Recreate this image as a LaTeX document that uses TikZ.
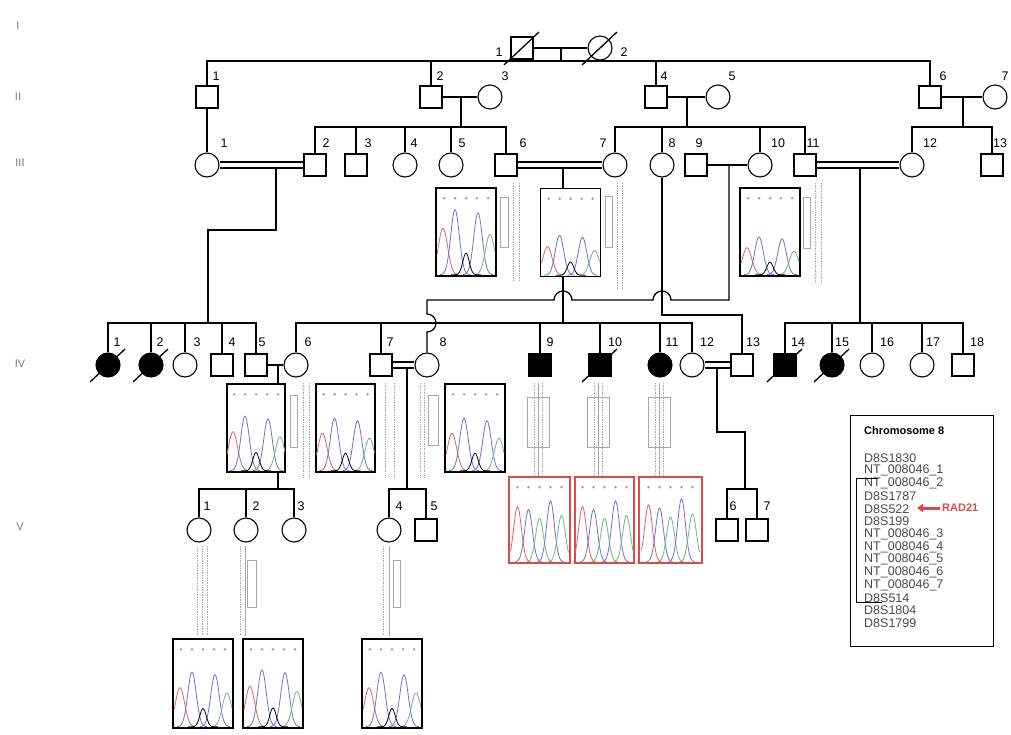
\documentclass[tikz,border=0pt]{standalone}
\usepackage{fontspec}
\setmainfont{Liberation Sans}
\usetikzlibrary{arrows.meta}
\definecolor{pkred}{HTML}{D9606E}
\definecolor{pkblue}{HTML}{6F73C2}
\definecolor{pkgreen}{HTML}{6DB58A}
\definecolor{boxred}{HTML}{D94A4A}
\definecolor{hapgray}{HTML}{A8A8A8}
\definecolor{gentxt}{HTML}{7A7A7A}
\definecolor{mktxt}{HTML}{4A4A4A}
\newcommand\consang[2]{\draw[ln] ([yshift=3pt]#1.east) -- ([yshift=3pt]#2.west); \draw[ln] ([yshift=-3pt]#1.east) -- ([yshift=-3pt]#2.west);}
\newcommand\deceased[1]{\draw[ln] ([shift={(-18,17)}]#1.center) -- ([shift={(17,-16)}]#1.center);}
\tikzset{
 pics/peaksA/.style={code={
  \foreach \c/\h/\s/\col in {-23/30/6.5/pkred,-11/42/6/pkblue,12/40/6/pkblue,24/26/6.5/pkgreen,0/14/4.5/black}{
    \pgfmathsetmacro{\da}{max(-29,\c-15)}
    \pgfmathsetmacro{\db}{min(29,\c+15)}
    \draw[\col, line width=0.8pt] plot[domain=\da:\db, samples=35, smooth] (\x,{0-(\h)*exp(0-(((\x)-(\c))/(\s))^2)});
  }
 }},
 pics/peaksB/.style={code={
  \foreach \c/\h/\s/\col in {-22/38/5.5/pkred,-11/36/5.5/pkblue,0/30/5.5/pkgreen,11/42/5.5/pkblue,22/32/5.5/pkgreen}{
    \pgfmathsetmacro{\da}{max(-29,\c-13)}
    \pgfmathsetmacro{\db}{min(29,\c+13)}
    \draw[\col, line width=0.8pt] plot[domain=\da:\db, samples=35, smooth] (\x,{0-(\h)*exp(0-(((\x)-(\c))/(\s))^2)});
  }
 }},
 pics/topmarks/.style={code={
  \foreach \d in {-22,-11,0,11,22}{\fill[hapgray] (\d,0) circle (1.5pt);}
 }},
}
\begin{document}
\begin{tikzpicture}[x=1pt,y=-1pt,
  ln/.style={line width=1.3pt},
  sq/.style={draw, rectangle, minimum size=22pt, inner sep=0pt, line width=1.1pt, fill=white},
  ci/.style={draw, circle, minimum size=24pt, inner sep=0pt, line width=1.1pt, fill=white},
  aff/.style={fill=black},
  lb/.style={font=\fontsize{12.5}{12.5}\selectfont, inner sep=0pt},
  gen/.style={font=\fontsize{11}{11}\selectfont, text=gentxt, inner sep=0pt},
  chrom/.style={draw, line width=1.5pt, minimum width=60pt, minimum height=88pt, inner sep=0pt, fill=white},
  chromred/.style={chrom, draw=boxred, line width=1.7pt, minimum width=61pt, minimum height=86pt},
  hap/.style={hapgray, line width=0.7pt, densely dotted},
  haprect/.style={draw=hapgray, line width=0.8pt},
  mk/.style={anchor=west, inner sep=0pt, text=mktxt, font=\fontsize{12.5}{12.5}\selectfont},
]
\useasboundingbox (0,0) rectangle (1011,735);

% generation labels
\node[gen] (gI) at (18,26) {I};
\node[gen] (gII) at (18,97) {II};
\node[gen] (gIII) at (20,163) {III};
\node[gen] (gIV) at (20,364) {IV};
\node[gen] (gV) at (20,527) {V};

% level coordinates
\coordinate (yI) at (0,61);
\coordinate (yII) at (0,127);
\coordinate (yX) at (0,300);
\coordinate (y8) at (0,315);
\coordinate (yIV) at (0,323);
\coordinate (yV) at (0,489);

% ---------- Generation I
\node[sq] (I1) at (522,48) {};
\node[ci] (I2) at (600,48) {};
\node[lb] (lI1) at (499,52) {1};
\node[lb] (lI2) at (624,52) {2};
\deceased{I1}
\deceased{I2}
\coordinate (mI) at (561,48);

% ---------- Generation II
\node[sq] (II1) at (207,97) {};
\node[sq] (II2) at (431,97) {};
\node[ci] (II3) at (490,97) {};
\node[sq] (II4) at (656,97) {};
\node[ci] (II5) at (718,97) {};
\node[sq] (II6) at (930,97) {};
\node[ci] (II7) at (995,97) {};
\foreach \n/\x in {1/216,2/440,3/505,4/664,5/732,6/943,7/1005}{\node[lb] (lII\n) at (\x,76) {\n};}
\coordinate (m23) at (461,97);
\coordinate (m45) at (687,97);
\coordinate (m67b) at (963,97);

% ---------- Generation III
\node[ci] (III1) at (207,165) {};
\node[sq] (III2) at (315,165) {};
\node[sq] (III3) at (356,165) {};
\node[ci] (III4) at (405,165) {};
\node[ci] (III5) at (451,165) {};
\node[sq] (III6) at (506,165) {};
\node[ci] (III7) at (615,165) {};
\node[ci] (III8) at (662,165) {};
\node[sq] (III9) at (696,165) {};
\node[ci] (III10) at (760,165) {};
\node[sq] (III11) at (805,165) {};
\node[ci] (III12) at (912,165) {};
\node[sq] (III13) at (992,165) {};
\foreach \n/\x in {1/224,2/326,3/368,4/414,5/462,6/523,7/603,8/672,9/699,10/778,11/813,12/930,13/1000}{\node[lb] (lIII\n) at (\x,143) {\n};}
\coordinate (m12) at (276,168);
\coordinate (m67) at (563,168);
\coordinate (m910) at (729,165);
\coordinate (m1112) at (860,168);

% ---------- Generation IV
\node[ci,aff] (IV1) at (108,365) {};
\node[ci,aff] (IV2) at (151,365) {};
\node[ci] (IV3) at (185,365) {};
\node[sq] (IV4) at (222,365) {};
\node[sq] (IV5) at (256,365) {};
\node[ci] (IV6) at (296,365) {};
\node[sq] (IV7) at (381,365) {};
\node[ci] (IV8) at (427,365) {};
\node[sq,aff] (IV9) at (540,365) {};
\node[sq,aff] (IV10) at (600,365) {};
\node[ci,aff] (IV11) at (660,365) {};
\node[ci] (IV12) at (692,365) {};
\node[sq] (IV13) at (742,365) {};
\node[sq,aff] (IV14) at (785,365) {};
\node[ci,aff] (IV15) at (832,365) {};
\node[ci] (IV16) at (872,365) {};
\node[ci] (IV17) at (922,365) {};
\node[sq] (IV18) at (963,365) {};
\foreach \n/\x in {1/117,2/160,3/197,4/232,5/262,6/308,7/390,8/443,9/550,10/615,11/672,12/707,13/753,14/798,15/842,16/887,17/933,18/977}{\node[lb] (lIV\n) at (\x,342) {\n};}
\deceased{IV1}
\deceased{IV2}
\deceased{IV10}
\deceased{IV14}
\deceased{IV15}
\coordinate (m56) at (278,365);
\coordinate (m78) at (407,368);
\coordinate (m1213) at (717,368);
\coordinate (k12a) at (276,230);
\coordinate (k12b) at (208,230);
\coordinate (kIVa) at (717,432);
\coordinate (kIVb) at (745,432);

% ---------- Generation V
\node[ci] (V1) at (199,530) {};
\node[ci] (V2) at (246,530) {};
\node[ci] (V3) at (294,530) {};
\node[ci] (V4) at (389,530) {};
\node[sq] (V5) at (426,530) {};
\node[sq] (V6) at (727,530) {};
\node[sq] (V7) at (757,530) {};
\foreach \n/\x in {1/207,2/256,3/301,4/399,5/434,6/733,7/767}{\node[lb] (lV\n) at (\x,506) {\n};}

% ---------- chromatogram boxes
\node[chrom] (c6) at (466,232) {};
\node[chrom] (c67) at (570.5,232.5) {};
\node[chrom] (c11) at (770,232) {};
\node[chrom, minimum width=58pt] (c56) at (256,428) {};
\node[chrom, minimum width=59pt] (c7) at (345.5,428) {};
\node[chrom] (c8) at (475,428) {};
\node[chromred] (r9) at (539.5,520) {};
\node[chromred, minimum width=59pt] (r10) at (604.5,520) {};
\node[chromred, minimum width=63pt] (r11) at (670.5,520) {};
\node[chrom, minimum height=89pt] (v1) at (203,683.5) {};
\node[chrom, minimum height=89pt] (v2) at (273,683.5) {};
\node[chrom, minimum height=89pt] (v4) at (392,683.5) {};
\pic[yscale=1.55] at ([yshift=2pt]c6.south) {peaksA};
\pic[yscale=0.95] at ([yshift=2pt]c67.south) {peaksA};
\pic[yscale=0.9] at ([yshift=2pt]c11.south) {peaksA};
\pic[yscale=1.3] at ([yshift=2pt]c56.south) {peaksA};
\pic[yscale=1.25] at ([yshift=2pt]c7.south) {peaksA};
\pic[yscale=1.25] at ([yshift=2pt]c8.south) {peaksA};
\pic[yscale=1.45] at ([yshift=2pt]r9.south) {peaksB};
\pic[yscale=1.45] at ([yshift=2pt]r10.south) {peaksB};
\pic[yscale=1.5] at ([yshift=2pt]r11.south) {peaksB};
\pic[yscale=1.3] at ([yshift=2pt]v1.south) {peaksA};
\pic[yscale=1.35] at ([yshift=2pt]v2.south) {peaksA};
\pic[yscale=1.3] at ([yshift=2pt]v4.south) {peaksA};
\foreach \b in {c6,c67,c11,c56,c7,c8,r9,r10,r11,v1,v2,v4}{\pic at ([yshift=-11pt]\b.north) {topmarks};}

% ---------- haplotype bars
\draw[haprect] (500,197) rectangle (508,247);
\draw[hap] (513,183) -- (513,280); \draw[hap] (519,183) -- (519,280);
\draw[haprect] (605,196) rectangle (612,247);
\draw[hap] (617,183) -- (617,290); \draw[hap] (622,183) -- (622,290);
\draw[haprect] (803,197) rectangle (810,248);
\draw[hap] (815,183) -- (815,282); \draw[hap] (821,183) -- (821,282);
\draw[haprect] (290,395) rectangle (297,447);
\draw[hap] (303,383) -- (303,478); \draw[hap] (309,383) -- (309,478);
\draw[hap] (385,383) -- (385,478); \draw[hap] (394,383) -- (394,478);
\draw[hap] (420,383) -- (420,478); \draw[hap] (424,383) -- (424,478);
\draw[haprect] (428,395) rectangle (438,445);
\foreach \x in {538.5,598.5,659.5}{
  \draw[haprect] (\x-11,397) rectangle (\x+11,447);
  \draw[hap] (\x-4,383) -- (\x-4,476); \draw[hap] (\x+4,383) -- (\x+4,476);
  \draw[hapgray, line width=0.6pt] (\x,383) -- (\x,476);
}
\draw[hap] (197,546) -- (197,636); \draw[hap] (202,546) -- (202,636); \draw[hap] (207,546) -- (207,636);
\draw[hap] (240,546) -- (240,636); \draw[hapgray, line width=0.6pt] (245,546) -- (245,636);
\draw[haprect] (247,560) rectangle (256,607);
\draw[hap] (383,546) -- (383,636); \draw[hapgray, line width=0.6pt] (389,546) -- (389,636);
\draw[haprect] (393,560) rectangle (400,607);

% ---------- connectors
% Gen I
\draw[ln] (I1.east) -- (I2.west);
\draw[ln] (mI) -- (mI |- yI);
\draw[ln] (II1.north) -- (II1.north |- yI) -- (II6.north |- yI) -- (II6.north);
\draw[ln] (II2.north) -- (II2.north |- yI);
\draw[ln] (II4.north) -- (II4.north |- yI);
% Gen II
\draw[ln] (II1.south) -- (III1.north);
\draw[ln] (II2.east) -- (II3.west);
\draw[ln] (II4.east) -- (II5.west);
\draw[ln] (II6.east) -- (II7.west);
\draw[ln] (m23) -- (m23 |- yII);
\draw[ln] (m45) -- (m45 |- yII);
\draw[ln] (m67b) -- (m67b |- yII);
\draw[ln] (III2.north) -- (III2.north |- yII) -- (III6.north |- yII) -- (III6.north);
\foreach \k in {III3,III4,III5}{\draw[ln] (\k.north) -- (\k.north |- yII);}
\draw[ln] (III7.north) -- (III7.north |- yII) -- (III11.north |- yII) -- (III11.north);
\foreach \k in {III8,III10}{\draw[ln] (\k.north) -- (\k.north |- yII);}
\draw[ln] (III12.north) -- (III12.north |- yII) -- (III13.north |- yII) -- (III13.north);
% Gen III unions
\consang{III1}{III2}
\consang{III6}{III7}
\consang{III11}{III12}
\draw[ln] (III9.east) -- (III10.west);
\draw[ln] (m12) -- (k12a) -- (k12b) -- (k12b |- yIV);
\draw[ln] (IV1.north) -- (IV1.north |- yIV) -- (IV5.north |- yIV) -- (IV5.north);
\foreach \k in {IV2,IV3,IV4}{\draw[ln] (\k.north) -- (\k.north |- yIV);}
\draw[ln] (m67) -- (m67 |- c67.north);
\draw[ln] (m67 |- c67.south) -- (m67 |- yIV);
\draw[ln] (IV6.north) -- (IV6.north |- yIV) -- (IV12.north |- yIV) -- (IV12.north);
\foreach \k in {IV7,IV9,IV10,IV11}{\draw[ln] (\k.north) -- (\k.north |- yIV);}
\coordinate (x8) at (III8.south |- yX);
\coordinate (x67) at (m67 |- yX);
\coordinate (x4) at (IV8.north |- yIV);
\draw[ln] (m910) -- (m910 |- yX) -- ([xshift=9pt]x8) arc (0:180:9pt) -- ([xshift=9pt]x67) arc (0:180:9pt) -- (IV8.north |- yX) -- ([yshift=9pt]x4) arc (90:-90:9pt) -- (IV8.north);
\draw[ln] (III8.south) -- (III8.south |- y8) -- (IV13.north |- y8) -- (IV13.north);
\draw[ln] (m1112) -- (m1112 |- yIV);
\draw[ln] (IV14.north) -- (IV14.north |- yIV) -- (IV18.north |- yIV) -- (IV18.north);
\foreach \k in {IV15,IV16,IV17}{\draw[ln] (\k.north) -- (\k.north |- yIV);}
% Gen IV unions
\draw[ln] (IV5.east) -- (IV6.west);
\consang{IV7}{IV8}
\consang{IV12}{IV13}
\draw[ln] (m56) -- (m56 |- c56.north);
\draw[ln] (m56 |- c56.south) -- (m56 |- yV);
\draw[ln] (V1.north) -- (V1.north |- yV) -- (V3.north |- yV) -- (V3.north);
\draw[ln] (V2.north) -- (V2.north |- yV);
\draw[ln] (m78) -- (m78 |- yV);
\draw[ln] (V4.north) -- (V4.north |- yV) -- (V5.north |- yV) -- (V5.north);
\draw[ln] (m1213) -- (kIVa) -- (kIVb) -- (kIVb |- yV);
\draw[ln] (V6.north) -- (V6.north |- yV) -- (V7.north |- yV) -- (V7.north);

% ---------- chromosome legend
\node[draw, line width=1pt, minimum width=143pt, minimum height=231pt, inner sep=0pt] (chr) at (921.5,530.5) {};
\node[anchor=west, inner sep=0pt, font=\bfseries\fontsize{11}{11}\selectfont] (ctit) at (864,431) {Chromosome 8};
\foreach \t [count=\i] in {D8S1830,NT\_008046\_1,NT\_008046\_2,D8S1787,D8S522,D8S199,NT\_008046\_3,NT\_008046\_4,NT\_008046\_5,NT\_008046\_6,NT\_008046\_7,D8S514,D8S1804,D8S1799}{
  \node[mk] (mk\i) at (864,{458+12.7*(\i-1)}) {\t};
}
\coordinate (bk1) at (878,478);
\coordinate (bk2) at (856,478);
\coordinate (bk3) at (856,602);
\coordinate (bk4) at (882,602);
\draw[line width=1pt] (bk1) -- (bk2) -- (bk3) -- (bk4);
\node[anchor=west, inner sep=0pt, text=boxred, font=\bfseries\fontsize{11}{11}\selectfont] (rad) at (942,508) {RAD21};
\coordinate (ahead) at (917,508);
\draw[boxred, line width=3pt, -{Triangle[length=6pt,width=8pt]}] ([xshift=-2pt]rad.west) -- (ahead);
\end{tikzpicture}
\end{document}
